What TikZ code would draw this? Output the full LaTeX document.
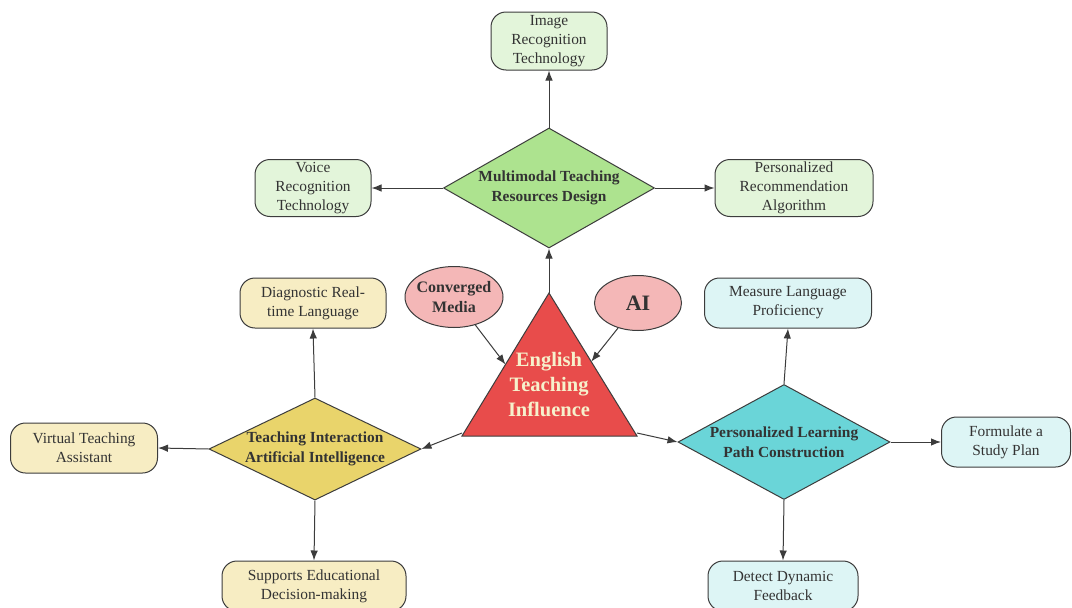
\documentclass[tikz,border=0pt]{standalone}
\usepackage{fontspec}
\setmainfont{Liberation Serif}
\usetikzlibrary{arrows.meta,shapes.geometric,calc}

\definecolor{leafgreen}{HTML}{E3F5DA}
\definecolor{leafyellow}{HTML}{F7EDC3}
\definecolor{leafcyan}{HTML}{DDF5F5}
\definecolor{hubgreen}{HTML}{ADE38F}
\definecolor{hubyellow}{HTML}{E9D46B}
\definecolor{hubcyan}{HTML}{6AD5D8}
\definecolor{trired}{HTML}{E84C4B}
\definecolor{ellpink}{HTML}{F4B7B7}
\definecolor{tritext}{HTML}{F6F1CC}
\definecolor{textgray}{HTML}{333333}
\definecolor{linegray}{HTML}{3C3C3C}

\tikzset{
  leaf/.style={draw=linegray, line width=1pt, rounded corners=15pt, align=center,
    text=textgray, font=\fontsize{15.4}{19}\selectfont, inner sep=2pt, minimum height=50pt},
  hub/.style={diamond, draw=linegray, line width=1pt, align=center, inner xsep=-8pt, inner ysep=-4pt,
    text=textgray, font=\bfseries\fontsize{15.4}{19.5}\selectfont, aspect=1.8},
  source/.style={ellipse, draw=linegray, line width=1pt, fill=ellpink, inner xsep=-5pt, inner ysep=0pt,
    text=textgray, align=center, font=\bfseries\fontsize{16}{20}\selectfont},
  link/.style={->, draw=linegray, line width=1pt}
}

\begin{document}
\begin{tikzpicture}[x=1pt, y=-1pt, >={Latex[length=10pt,width=7.5pt]}]
  \useasboundingbox[fill=white] (0,0) rectangle (1072,608);

  % central triangle
  \coordinate (apex) at (549,293);
  \coordinate (lc) at (462,436);
  \coordinate (rc) at (637,436);
  \draw[draw=linegray, line width=1pt, fill=trired] (apex) -- (lc) -- (rc) -- cycle;
  \node[text=tritext, align=center, font=\bfseries\fontsize{20.5}{25}\selectfont] (eti) at (549,385) {English\\Teaching\\Influence};

  % sources
  \node[source, minimum width=98pt, minimum height=61pt] (cm) at (454,297) {Converged\\Media};
  \node[source, minimum width=87pt, minimum height=55pt, font=\bfseries\fontsize{22}{26}\selectfont] (ai) at (638,303) {AI};

  % hubs
  \node[hub, fill=hubgreen, minimum width=211pt, minimum height=120pt] (mtrd) at (549,188) {Multimodal Teaching\\Resources Design};
  \node[hub, fill=hubyellow, minimum width=212pt, minimum height=102pt, aspect=2.08] (tiai) at (315,449) {Teaching Interaction\\Artificial Intelligence};
  \node[hub, fill=hubcyan, minimum width=212pt, minimum height=115pt, aspect=1.84] (plpc) at (784,442) {Personalized Learning\\Path Construction};

  % leaves
  \node[leaf, fill=leafgreen, minimum width=116pt, minimum height=58pt] (irt) at (549,41) {Image\\Recognition\\Technology};
  \node[leaf, fill=leafgreen, minimum width=116pt, minimum height=57pt] (vrt) at (313,188) {Voice\\Recognition\\Technology};
  \node[leaf, fill=leafgreen, minimum width=158pt, minimum height=57pt] (pra) at (794,188) {Personalized\\Recommendation\\Algorithm};
  \node[leaf, fill=leafyellow, minimum width=146pt] (drl) at (313,303) {Diagnostic Real-\\time Language};
  \node[leaf, fill=leafyellow, minimum width=147pt] (vta) at (84,448) {Virtual Teaching\\Assistant};
  \node[leaf, fill=leafyellow, minimum width=184pt] (sedm) at (314,586) {Supports Educational\\Decision-making};
  \node[leaf, fill=leafcyan, minimum width=167pt] (mlp) at (788,303) {Measure Language\\Proficiency};
  \node[leaf, fill=leafcyan, minimum width=129pt] (fsp) at (1006,442) {Formulate a\\Study Plan};
  \node[leaf, fill=leafcyan, minimum width=150pt] (ddf) at (783,586) {Detect Dynamic\\Feedback};

  % connectors
  \draw[link] (apex) -- (mtrd.south);
  \draw[link] (mtrd.north) -- (irt.south);
  \draw[link] (mtrd.west) -- (vrt.east);
  \draw[link] (mtrd.east) -- (pra.west);
  \draw[link] (cm) -- ($(apex)!0.5!(lc)$);
  \draw[link] (ai) -- ($(apex)!0.48!(rc)$);
  \draw[link] ($(lc)+(0,-3)$) -- (tiai.east);
  \draw[link] ($(rc)+(0,-3)$) -- (plpc.west);
  \draw[link] (tiai.north) -- (drl.south);
  \draw[link] (tiai.west) -- (vta.east);
  \draw[link] (tiai.south) -- (sedm.north);
  \draw[link] (plpc.north) -- (mlp.south);
  \draw[link] (plpc.east) -- (fsp.west);
  \draw[link] (plpc.south) -- (ddf.north);
\end{tikzpicture}
\end{document}
